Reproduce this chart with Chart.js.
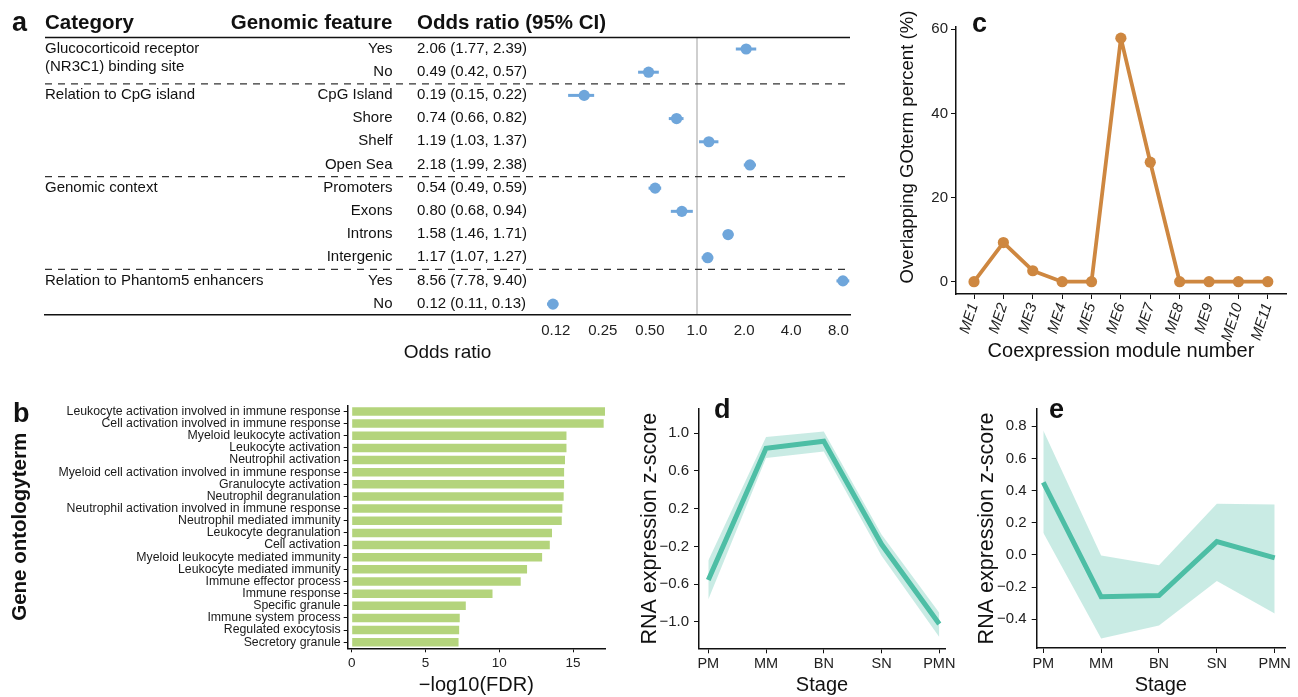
<!DOCTYPE html>
<html>
<head>
<meta charset="utf-8">
<script src="https://cdn.jsdelivr.net/npm/chart.js@4.4.1/dist/chart.umd.min.js"></script>
<style>
  body { margin: 0; background: #fff; }
  #fig { position: relative; width: 1298px; height: 697px; overflow: hidden; background: #fff; }
  #fig canvas { position: absolute; }
</style>
</head>
<body>
<div id="fig">
  <canvas id="chartA"></canvas>
  <canvas id="chartB"></canvas>
  <canvas id="chartC"></canvas>
  <canvas id="chartD"></canvas>
  <canvas id="chartE"></canvas>
</div>
<script>
// ---- data ----
// panel a: odds ratios per genomic feature
const orCategoryNames = [['Glucocorticoid receptor', '(NR3C1) binding site'], ['Relation to CpG island'], ['Genomic context'], ['Relation to Phantom5 enhancers']];
const orCategoryStart = [0, 2, 6, 10];
const orFeatures = ['Yes', 'No', 'CpG Island', 'Shore', 'Shelf', 'Open Sea', 'Promoters', 'Exons', 'Introns', 'Intergenic', 'Yes', 'No'];
const orValues = [2.06, 0.49, 0.19, 0.74, 1.19, 2.18, 0.54, 0.80, 1.58, 1.17, 8.56, 0.12];
const orLower = [1.77, 0.42, 0.15, 0.66, 1.03, 1.99, 0.49, 0.68, 1.46, 1.07, 7.78, 0.11];
const orUpper = [2.39, 0.57, 0.22, 0.82, 1.37, 2.38, 0.59, 0.94, 1.71, 1.27, 9.40, 0.13];
const orTicks = [0.125, 0.25, 0.5, 1, 2, 4, 8];
const orTickLabels = ['0.12', '0.25', '0.50', '1.0', '2.0', '4.0', '8.0'];

// panel b: GO terms
const goTerms = [
  'Leukocyte activation involved in immune response',
  'Cell activation involved in immune response',
  'Myeloid leukocyte activation',
  'Leukocyte activation',
  'Neutrophil activation',
  'Myeloid cell activation involved in immune response',
  'Granulocyte activation',
  'Neutrophil degranulation',
  'Neutrophil activation involved in immune response',
  'Neutrophil mediated immunity',
  'Leukocyte degranulation',
  'Cell activation',
  'Myeloid leukocyte mediated immunity',
  'Leukocyte mediated immunity',
  'Immune effector process',
  'Immune response',
  'Specific granule',
  'Immune system process',
  'Regulated exocytosis',
  'Secretory granule'
];
const goFdr = [17.16, 17.07, 14.55, 14.55, 14.45, 14.39, 14.39, 14.36, 14.27, 14.23, 13.57, 13.42, 12.9, 11.88, 11.45, 9.54, 7.73, 7.32, 7.28, 7.24];
const fdrTicks = [0, 5, 10, 15];

// panel c: overlap per coexpression module
const modules = ['ME1', 'ME2', 'ME3', 'ME4', 'ME5', 'ME6', 'ME7', 'ME8', 'ME9', 'ME10', 'ME11'];
const overlapPct = [0, 9.3, 2.6, 0, 0, 57.9, 28.4, 0, 0, 0, 0];
const pctTicks = [0, 20, 40, 60];

// panels d, e: expression by stage
const stages = ['PM', 'MM', 'BN', 'SN', 'PMN'];
const zD = [-0.557, 0.839, 0.914, -0.178, -1.022];
const zDUpper = [-0.35, 0.959, 1.018, -0.075, -0.902];
const zDLower = [-0.763, 0.735, 0.804, -0.298, -1.16];
const zDTicks = [-1.0, -0.6, -0.2, 0.2, 0.6, 1.0];
const zE = [0.451, -0.26, -0.252, 0.083, -0.018];
const zEUpper = [0.774, -0.004, -0.064, 0.319, 0.313];
const zELower = [0.138, -0.519, -0.438, -0.161, -0.364];
const zETicks = [-0.4, -0.2, 0.0, 0.2, 0.4, 0.6, 0.8];

// ---- style ----
const FONT = "'Liberation Sans', Arial, Helvetica, sans-serif";
const INK = '#111';
const BLUE = '#6FA6DB';
const GREEN = '#B4D47C';
const ORANGE = '#CE8740';
const TEAL = '#4DBEA5';
const BAND = 'rgba(77,190,165,0.3)';
Chart.defaults.font.family = FONT;
Chart.defaults.color = '#222';

function minusFmt(v) {
  const s = Math.abs(v).toFixed(1);
  return v < -1e-9 ? '\u2212' + s : s;
}

function setup(id, box) {
  const c = document.getElementById(id);
  c.width = box[2];
  c.height = box[3];
  c.style.left = box[0] + 'px';
  c.style.top = box[1] + 'px';
  return c;
}

function drawText(ctx, box, t, x, y, font, align, baseline, rot) {
  ctx.save();
  ctx.translate(x - box[0], y - box[1]);
  if (rot) ctx.rotate(rot);
  ctx.font = font;
  ctx.fillStyle = INK;
  ctx.textAlign = align || 'left';
  ctx.textBaseline = baseline || 'alphabetic';
  ctx.fillText(t, 0, 0);
  ctx.restore();
}

const base = {
  responsive: false,
  animation: false,
  plugins: { legend: { display: false }, tooltip: { enabled: false } }
};

// ---- panel a: forest plot ----
const boxA = [0, 0, 865, 375];
const forestPlugin = {
  id: 'forest',
  beforeDatasetsDraw(chart) {
    const ctx = chart.ctx, xs = chart.scales.x, ys = chart.scales.y;
    ctx.save();
    ctx.strokeStyle = BLUE;
    ctx.lineWidth = 3;
    orValues.forEach((v, i) => {
      const y = ys.getPixelForValue(i);
      ctx.beginPath();
      ctx.moveTo(xs.getPixelForValue(orLower[i]), y);
      ctx.lineTo(xs.getPixelForValue(orUpper[i]), y);
      ctx.stroke();
    });
    ctx.restore();
  },
  afterDraw(chart) {
    const ctx = chart.ctx, ys = chart.scales.y, area = chart.chartArea;
    ctx.save();
    // header rule
    ctx.strokeStyle = INK;
    ctx.lineWidth = 1.5;
    ctx.beginPath();
    ctx.moveTo(area.left, area.top + 0.5);
    ctx.lineTo(area.right, area.top + 0.5);
    ctx.stroke();
    // dashed separators between categories
    ctx.strokeStyle = '#333';
    ctx.lineWidth = 1.3;
    ctx.setLineDash([7, 6]);
    orCategoryStart.slice(1).forEach(r => {
      const y = ys.getPixelForValue(r - 0.5);
      ctx.beginPath();
      ctx.moveTo(area.left, y);
      ctx.lineTo(area.right, y);
      ctx.stroke();
    });
    ctx.restore();

    const hdr = 'bold 20.5px ' + FONT;
    drawText(ctx, boxA, 'a', 12, 31, 'bold 27px ' + FONT);
    drawText(ctx, boxA, 'Category', 45, 29, hdr);
    drawText(ctx, boxA, 'Genomic feature', 392.5, 29, hdr, 'right');
    drawText(ctx, boxA, 'Odds ratio (95% CI)', 417, 29, hdr);

    const row = '15px ' + FONT;
    orCategoryNames.forEach((lines, k) => {
      const y = ys.getPixelForValue(orCategoryStart[k]);
      lines.forEach((ln, j) => drawText(ctx, boxA, ln, 45, y - 0.5 + j * 18, row, 'left', 'middle'));
    });
    orFeatures.forEach((f, i) => {
      const y = ys.getPixelForValue(i) - 0.5;
      drawText(ctx, boxA, f, 392.5, y, row, 'right', 'middle');
      const txt = orValues[i].toFixed(2) + ' (' + orLower[i].toFixed(2) + ', ' + orUpper[i].toFixed(2) + ')';
      drawText(ctx, boxA, txt, 417, y, row, 'left', 'middle');
    });
  }
};

new Chart(setup('chartA', boxA), {
  type: 'scatter',
  data: {
    datasets: [{
      data: orValues.map((v, i) => ({ x: v, y: i })),
      pointRadius: 5.6, pointHoverRadius: 5.6,
      backgroundColor: BLUE, borderWidth: 0
    }]
  },
  options: {
    ...base,
    layout: { autoPadding: false, padding: { left: 45, top: 37, right: boxA[2] - 850, bottom: 0 } },
    scales: {
      x: {
        type: 'logarithmic', min: 6.8e-5, max: 9.5,
        afterBuildTicks: s => { s.ticks = orTicks.map(v => ({ value: v })); },
        afterFit: s => { s.height = boxA[3] - 315; },
        border: { display: true, color: INK, width: 1.5 },
        grid: { color: c => (c.tick && c.tick.value === 1 ? '#cfcfcf' : 'rgba(0,0,0,0)'), lineWidth: 2, drawTicks: false },
        ticks: { callback: (v, i) => orTickLabels[i], font: { size: 15 }, padding: 7, maxRotation: 0, autoSkip: false },
        title: { display: true, text: 'Odds ratio', font: { size: 19 }, color: INK, padding: { top: 0, bottom: 10.5 } }
      },
      y: { type: 'linear', display: false, reverse: true, min: -0.518, max: 11.47 }
    }
  },
  plugins: [forestPlugin]
});

// ---- panel b: GO term bars ----
const boxB = [0, 395, 620, 302];
new Chart(setup('chartB', boxB), {
  type: 'bar',
  data: {
    labels: goTerms,
    datasets: [{ data: goFdr, backgroundColor: GREEN, borderWidth: 0, barPercentage: 0.7, categoryPercentage: 1.0 }]
  },
  options: {
    ...base,
    indexAxis: 'y',
    layout: { autoPadding: false, padding: { left: 0, top: 403 - boxB[1], right: boxB[0] + boxB[2] - 605, bottom: 0 } },
    scales: {
      x: {
        type: 'linear', min: -0.27, max: 17.16,
        afterBuildTicks: s => { s.ticks = fdrTicks.map(v => ({ value: v })); },
        afterFit: s => { s.height = boxB[1] + boxB[3] - 648.3; },
        border: { display: true, color: INK, width: 1.5 },
        grid: { drawOnChartArea: false, drawTicks: true, tickLength: 4, color: INK, lineWidth: 1 },
        ticks: { font: { size: 13.5 }, padding: 3, maxRotation: 0, autoSkip: false },
        title: { display: true, text: '\u2212log10(FDR)', font: { size: 20 }, color: INK, padding: { top: 0, bottom: 0 } }
      },
      y: {
        type: 'category',
        afterFit: s => { s.width = 347.7; },
        border: { display: true, color: INK, width: 1.5 },
        grid: { drawOnChartArea: false, drawTicks: true, tickLength: 4, color: INK, lineWidth: 1, offset: false },
        ticks: { font: { size: 12.3 }, color: '#1a1a1a', padding: 3, autoSkip: false },
        title: { display: true, text: 'Gene ontologyterm', font: { size: 20.5, weight: 'bold' }, color: INK, padding: { top: 8 } }
      }
    }
  },
  plugins: [{
    id: 'letterB',
    afterDraw(chart) { drawText(chart.ctx, boxB, 'b', 13, 421.7, 'bold 27px ' + FONT); }
  }]
});

// ---- panel c: overlap line ----
const boxC = [870, 0, 428, 385];
new Chart(setup('chartC', boxC), {
  type: 'line',
  data: {
    datasets: [{
      data: modules.map((m, i) => ({ x: i, y: overlapPct[i] })),
      borderColor: ORANGE, borderWidth: 3.8, tension: 0, borderJoinStyle: 'round',
      pointRadius: 5.6, pointHoverRadius: 5.6, pointBackgroundColor: ORANGE, pointBorderWidth: 0
    }]
  },
  options: {
    ...base,
    layout: { autoPadding: false, padding: { left: 0, top: 27, right: boxC[0] + boxC[2] - 1286, bottom: 0 } },
    scales: {
      x: {
        type: 'linear', min: -0.613, max: 10.62,
        afterBuildTicks: s => { s.ticks = modules.map((m, i) => ({ value: i })); },
        afterFit: s => { s.height = boxC[3] - 294; },
        border: { display: true, color: INK, width: 1.5 },
        grid: { drawOnChartArea: false, tickLength: 5, color: INK, lineWidth: 1 },
        ticks: { callback: (v, i) => modules[i], font: { size: 15, style: 'italic' }, padding: 2, minRotation: 72, maxRotation: 72, autoSkip: false },
        title: { display: true, text: 'Coexpression module number', font: { size: 20 }, color: INK, padding: { top: 0, bottom: 21.3 } }
      },
      y: {
        type: 'linear', min: -2.93, max: 60.55,
        afterBuildTicks: s => { s.ticks = pctTicks.map(v => ({ value: v })); },
        afterFit: s => { s.width = 956 - boxC[0]; },
        border: { display: true, color: INK, width: 1.5 },
        grid: { drawOnChartArea: false, tickLength: 5, color: INK, lineWidth: 1 },
        ticks: { font: { size: 15 }, padding: 3 }
      }
    }
  },
  plugins: [{
    id: 'textC',
    afterDraw(chart) {
      const ctx = chart.ctx;
      drawText(ctx, boxC, 'c', 972, 31.7, 'bold 27px ' + FONT);
      drawText(ctx, boxC, 'Overlapping GOterm percent (%)', 908, 147, '18.6px ' + FONT, 'center', 'middle', -Math.PI / 2);
    }
  }]
});

// ---- panels d, e: expression trajectories ----
function stageChart(id, box, area, yMin, yMax, xMin, xMax, yTicks, mean, upper, lower, titlePad, letter) {
  return new Chart(setup(id, box), {
    type: 'line',
    data: {
      datasets: [
        { data: stages.map((s, i) => ({ x: i, y: mean[i] })), borderColor: TEAL, borderWidth: 5, pointRadius: 0, tension: 0, fill: false },
        { data: stages.map((s, i) => ({ x: i, y: upper[i] })), borderColor: 'rgba(0,0,0,0)', borderWidth: 0, pointRadius: 0, tension: 0, fill: '+1', backgroundColor: BAND },
        { data: stages.map((s, i) => ({ x: i, y: lower[i] })), borderColor: 'rgba(0,0,0,0)', borderWidth: 0, pointRadius: 0, tension: 0, fill: false }
      ]
    },
    options: {
      ...base,
      layout: { autoPadding: false, padding: { left: 0, top: area[1] - box[1], right: box[0] + box[2] - area[2], bottom: 0 } },
      scales: {
        x: {
          type: 'linear', min: xMin, max: xMax,
          afterBuildTicks: s => { s.ticks = stages.map((st, i) => ({ value: i })); },
          afterFit: s => { s.height = box[1] + box[3] - area[3]; },
          border: { display: true, color: INK, width: 1.5 },
          grid: { drawOnChartArea: false, tickLength: 5, color: INK, lineWidth: 1 },
          ticks: { callback: (v, i) => stages[i], font: { size: 14.5 }, padding: 2, maxRotation: 0, autoSkip: false },
          title: { display: true, text: 'Stage', font: { size: 20 }, color: INK, padding: { top: 0, bottom: 0 } }
        },
        y: {
          type: 'linear', min: yMin, max: yMax,
          afterBuildTicks: s => { s.ticks = yTicks.map(v => ({ value: v })); },
          afterFit: s => { s.width = area[0] - box[0]; },
          border: { display: true, color: INK, width: 1.5 },
          grid: { drawOnChartArea: false, tickLength: 5, color: INK, lineWidth: 1 },
          ticks: { callback: v => minusFmt(v), font: { size: 15 }, padding: 5 },
          title: { display: true, text: 'RNA expression z-score', font: { size: 21.5 }, color: INK, padding: { top: titlePad } }
        }
      }
    },
    plugins: [{
      id: 'letter' + letter[0],
      afterDraw(chart) { drawText(chart.ctx, box, letter[0], letter[1], 418, 'bold 27px ' + FONT); }
    }]
  });
}

stageChart('chartD', [620, 395, 340, 302], [699, 403, 945, 648.3], -1.279, 1.255, -0.161, 4.099, zDTicks, zD, zDUpper, zDLower, 17.1, ['d', 714]);
stageChart('chartE', [960, 395, 338, 302], [1036.7, 403, 1285, 648], -0.578, 0.907, -0.114, 4.178, zETicks, zE, zEUpper, zELower, 13.8, ['e', 1049]);
</script>
</body>
</html>
